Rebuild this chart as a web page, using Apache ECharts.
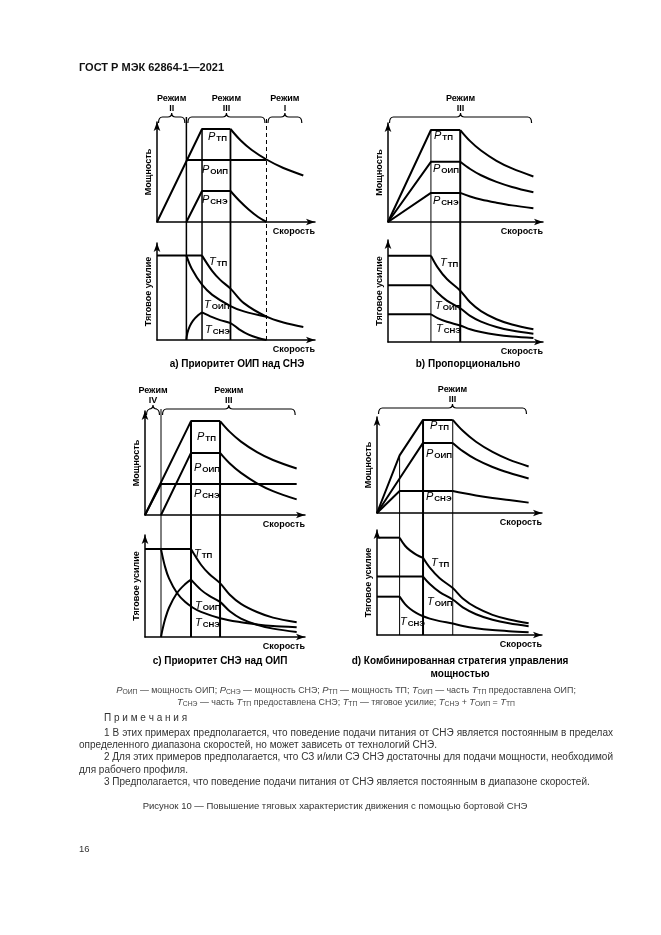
<!DOCTYPE html>
<html><head><meta charset="utf-8">
<script src="https://cdn.jsdelivr.net/npm/echarts@6/dist/echarts.min.js"></script>
<style>html,body{margin:0;padding:0;background:#fff}#c{width:661px;height:935px}</style>
</head><body><div id="c"></div>
<script>
// ===================== DATA (speed / value in relative units 0..10) =====================
// a) Приоритет ОИП над СНЭ
const a_regimes = [[0,1.86,'II'],[1.86,6.93,'III'],[6.93,9.26,'I']];
const a_bounds = [1.86, 2.85, 4.65, 6.93];
const a_P_TP_lin = [[0,0],[2.85,9.3],[4.65,9.3]];
const a_P_TP_dec = [[4.65,9.3],[5.3,8.15],[6.0,7.2],[6.93,6.25],[8.0,5.4],[9.26,4.65]];
const a_P_OIP = [[1.86,6.2],[6.93,6.2]];
const a_P_SNE_lin = [[1.86,0],[2.85,3.1],[4.65,3.1]];
const a_P_SNE_dec = [[4.65,3.1],[5.2,2.15],[5.8,1.25],[6.4,0.5],[6.93,0]];
const a_T_TP_lin = [[0,8.7],[2.85,8.7]];
const a_T_TP_dec = [[2.85,8.7],[3.5,7.1],[4.0,6.2],[4.65,5.3],[5.5,3.8],[6.93,2.4],[8.0,1.8],[9.26,1.35]];
const a_T_OIP = [[1.86,8.7],[2.2,7.35],[2.85,5.7],[3.5,4.65],[4.65,3.5],[5.5,2.95],[6.93,2.4]];
const a_T_SNE_rise = [[1.86,0],[1.92,0.7],[2.07,1.4],[2.28,2.0],[2.6,2.55],[2.85,2.85]];
const a_T_SNE_dec = [[2.85,2.85],[3.5,2.35],[4.0,2.05],[4.65,1.75],[5.2,1.1],[5.8,0.55],[6.4,0.2],[6.93,0]];
// b) Пропорционально
const b_regimes = [[0,9.36,'III']];
const b_bounds = [2.77, 4.66];
const b_P_TP_lin = [[0,0],[2.77,9.29],[4.66,9.29]];
const b_P_TP_dec = [[4.66,9.29],[5.3,8.17],[6.0,7.22],[7.0,6.18],[8.0,5.41],[9.38,4.6]];
const b_P_OIP_lin = [[0,0],[2.77,6.08],[4.66,6.08]];
const b_P_OIP_dec = [[4.66,6.08],[5.3,5.35],[6.0,4.72],[7.0,4.05],[8.0,3.54],[9.38,3.0]];
const b_P_SNE_lin = [[0,0],[2.77,2.94],[4.66,2.94]];
const b_P_SNE_dec = [[4.66,2.94],[5.3,2.58],[6.0,2.27],[7.0,1.95],[8.0,1.68],[9.38,1.4]];
const b_T_TP_lin = [[0,8.46],[2.77,8.46]];
const b_T_TP_dec = [[2.77,8.46],[3.2,7.32],[3.8,6.17],[4.66,5.03],[5.3,3.89],[6.0,3.03],[7.0,2.23],[8.0,1.71],[9.38,1.24]];
const b_T_OIP_lin = [[0,5.57],[2.77,5.57]];
const b_T_OIP_dec = [[2.77,5.57],[3.2,4.82],[3.8,4.06],[4.66,3.31],[5.3,2.56],[6.0,2.0],[7.0,1.47],[8.0,1.12],[9.38,0.82]];
const b_T_SNE_lin = [[0,2.72],[2.77,2.72]];
const b_T_SNE_dec = [[2.77,2.72],[3.2,2.35],[3.8,1.98],[4.66,1.62],[5.3,1.25],[6.0,0.98],[7.0,0.72],[8.0,0.55],[9.38,0.4]];
// c) Приоритет СНЭ над ОИП
const c_regimes = [[0,1.0,'IV'],[1.0,9.48,'III']];
const c_bounds = [1.0, 2.875, 4.69];
const c_P_TP_lin = [[0,0],[2.875,9.03],[4.69,9.03]];
const c_P_TP_dec = [[4.69,9.03],[5.3,7.99],[6.0,7.06],[7.0,6.05],[8.0,5.29],[9.48,4.47]];
const c_P_OIP_lin = [[1.0,0],[2.875,5.97],[4.69,5.97]];
const c_P_OIP_dec = [[4.69,5.97],[5.3,4.95],[6.0,4.05],[7.0,3.05],[8.0,2.3],[9.48,1.5]];
const c_P_SNE = [[0,0],[1.0,2.97],[9.48,2.97]];
const c_T_TP_lin = [[0,8.62],[2.875,8.62]];
const c_T_TP_dec = [[2.875,8.62],[3.5,7.08],[4.0,6.2],[4.69,5.28],[5.3,4.15],[6.0,3.25],[7.0,2.45],[8.0,1.9],[9.48,1.45]];
const c_T_SNE = [[1.0,8.62],[1.25,6.9],[1.5,5.75],[2.0,4.31],[2.5,3.45],[3.0,2.87],[3.5,2.46],[4.69,1.84],[6.0,1.44],[7.0,1.23],[8.0,1.08],[9.48,0.95]];
const c_T_OIP_rise = [[1.0,0],[1.1,0.78],[1.25,1.72],[1.5,2.87],[2.0,4.31],[2.5,5.17],[2.875,5.62]];
const c_T_OIP_dec = [[2.875,5.62],[3.5,4.62],[4.0,4.05],[4.69,3.44],[5.3,2.52],[6.0,1.81],[7.0,1.2],[8.0,0.82],[9.48,0.5]];
// d) Комбинированная стратегия
const d_regimes = [[0,9.15,'III']];
const d_bounds = [1.37, 2.79, 4.59];
const d_P_TP_lin = [[0,0],[1.37,6.0],[2.79,9.7],[4.59,9.7]];
const d_P_TP_dec = [[4.59,9.7],[5.2,8.56],[6.0,7.42],[7.0,6.36],[8.0,5.56],[9.19,4.85]];
const d_P_OIP_lin = [[0,0],[1.37,3.6],[2.79,7.3],[4.59,7.3]];
const d_P_OIP_dec = [[4.59,7.3],[5.2,6.44],[6.0,5.58],[7.0,4.79],[8.0,4.19],[9.19,3.6]];
const d_P_SNE_lin = [[0,0],[1.37,2.3],[4.59,2.3]];
const d_P_SNE_dec = [[4.59,2.3],[5.2,2.08],[6.0,1.83],[7.0,1.57],[8.0,1.35],[9.19,1.08]];
const d_T_TP_lin = [[0,9.27],[1.37,9.27]];
const d_T_TP_dec1 = [[1.37,9.27],[1.7,8.5],[2.0,8.06],[2.4,7.64],[2.79,7.35]];
const d_T_TP_dec2 = [[2.79,7.35],[3.2,6.41],[3.8,5.4],[4.59,4.47],[5.2,3.48],[6.0,2.62],[7.0,1.92],[8.0,1.47],[9.19,1.12]];
const d_T_OIP_lin = [[0,5.56],[2.79,5.56]];
const d_T_OIP_dec = [[2.79,5.56],[3.2,4.85],[3.8,4.08],[4.59,3.38],[5.2,2.63],[6.0,1.98],[7.0,1.45],[8.0,1.11],[9.19,0.84]];
const d_T_SNE_lin = [[0,3.65],[1.37,3.65]];
const d_T_SNE_dec = [[1.37,3.65],[1.7,2.94],[2.0,2.5],[2.4,2.08],[2.79,1.79],[3.2,1.56],[3.8,1.32],[4.59,1.09],[5.2,0.85],[6.0,0.64],[7.0,0.47],[8.0,0.36],[9.19,0.27]];

// ===================== LAYOUT & STYLE =====================
const F = '"Liberation Sans Narrow","Liberation Sans",Arial,sans-serif';
const FN = '"Liberation Sans",Arial,sans-serif';
const panels = [
 {L:157,R:315,braceY:117,top:[122,222],bot:[243,340],regimes:a_regimes,bounds:a_bounds,
  boundTop:[null,a_P_TP_lin[1][1],a_P_TP_lin[2][1],null],boundW:[1.5,1.5,1.8,1],boundDash:[0,0,0,1],
  topLines:[[a_P_TP_lin,0],[a_P_TP_dec,1],[a_P_OIP,0],[a_P_SNE_lin,0],[a_P_SNE_dec,1]],
  botLines:[[a_T_TP_lin,0],[a_T_TP_dec,1],[a_T_OIP,1],[a_T_SNE_rise,1],[a_T_SNE_dec,1]]},
 {L:388,R:543,braceY:117,top:[123,222],bot:[240,342],regimes:b_regimes,bounds:b_bounds,
  boundTop:[b_P_TP_lin[1][1],b_P_TP_lin[2][1]],boundW:[1,2],boundDash:[0,0],
  topLines:[[b_P_TP_lin,0],[b_P_TP_dec,1],[b_P_OIP_lin,0],[b_P_OIP_dec,1],[b_P_SNE_lin,0],[b_P_SNE_dec,1]],
  botLines:[[b_T_TP_lin,0],[b_T_TP_dec,1],[b_T_OIP_lin,0],[b_T_OIP_dec,1],[b_T_SNE_lin,0],[b_T_SNE_dec,1]]},
 {L:145,R:305,braceY:409,top:[411,515],bot:[535,637],regimes:c_regimes,bounds:c_bounds,
  boundTop:[null,c_P_TP_lin[1][1],c_P_TP_lin[2][1]],boundW:[1,2,2],boundDash:[0,0,0],
  topLines:[[c_P_TP_lin,0],[c_P_TP_dec,1],[c_P_OIP_lin,0],[c_P_OIP_dec,1],[c_P_SNE,0]],
  botLines:[[c_T_TP_lin,0],[c_T_TP_dec,1],[c_T_SNE,1],[c_T_OIP_rise,1],[c_T_OIP_dec,1]]},
 {L:377,R:542,braceY:408,top:[417,513],bot:[530,635],regimes:d_regimes,bounds:d_bounds,
  boundTop:[d_P_TP_lin[1][1],d_P_TP_lin[2][1],d_P_TP_lin[3][1]],boundW:[1,2,1],boundDash:[0,0,0],
  topLines:[[d_P_TP_lin,0],[d_P_TP_dec,1],[d_P_OIP_lin,0],[d_P_OIP_dec,1],[d_P_SNE_lin,0],[d_P_SNE_dec,1]],
  botLines:[[d_T_TP_lin,0],[d_T_TP_dec1,1],[d_T_TP_dec2,1],[d_T_OIP_lin,0],[d_T_OIP_dec,1],[d_T_SNE_lin,0],[d_T_SNE_dec,1]]}
];
const curveLabels = [
 [208,131,'P','ТП'],[202,164,'P','ОИП'],[202,194,'P','СНЭ'],
 [209,256,'T','ТП'],[204,299,'T','ОИП'],[205,324,'T','СНЭ'],
 [434,130,'P','ТП'],[433,163,'P','ОИП'],[433,195,'P','СНЭ'],
 [440,257,'T','ТП'],[435,300,'T','ОИП'],[436,323,'T','СНЭ'],
 [197,431,'P','ТП'],[194,462,'P','ОИП'],[194,488,'P','СНЭ'],
 [194,548,'T','ТП'],[195,600,'T','ОИП'],[195,617,'T','СНЭ'],
 [430,420,'P','ТП'],[426,448,'P','ОИП'],[426,491,'P','СНЭ'],
 [431,557,'T','ТП'],[427,596,'T','ОИП'],[400,616,'T','СНЭ']
];
const captions = [
 [237,364,'a) Приоритет ОИП над СНЭ'],[468,364,'b) Пропорционально'],
 [220,661,'c) Приоритет СНЭ над ОИП'],[460,661,'d) Комбинированная стратегия управления'],[460,674,'мощностью']
];

// ===================== BUILD =====================
const grid=[], xAxis=[], yAxis=[], series=[];
const nameStyle = {fontFamily:F, fontWeight:'bold', fontSize:9, color:'#000'};
function axisLine(){return {show:true,onZero:true,lineStyle:{color:'#000',width:1.5},symbol:['none','arrow'],symbolSize:[5,9]};}
function lineSeries(data, gi, smooth, w){
  return {type:'line',xAxisIndex:gi,yAxisIndex:gi,data,smooth:smooth?0.35:false,
    symbol:'none',silent:true,animation:false,z:3,lineStyle:{color:'#000',width:w||2}};
}
function braceRender(labels, yv){
  return function(params, api){
    const p0 = api.coord([api.value(0), yv]), p1 = api.coord([api.value(1), yv]);
    const y = p0[1], a = p0[0]+1.5, b = p1[0]-1.5, c = (a+b)/2, h = 6, r = 4;
    const d = `M${a} ${y+h} Q${a} ${y} ${a+r} ${y} L${c-r} ${y} Q${c} ${y} ${c} ${y-r} Q${c} ${y} ${c+r} ${y} L${b-r} ${y} Q${b} ${y} ${b} ${y+h}`;
    return {type:'group',children:[
      {type:'path',shape:{pathData:d},style:{fill:'none',stroke:'#000',lineWidth:1.2}},
      {type:'text',style:{text:'Режим',x:c,y:y-18,align:'center',verticalAlign:'middle',textAlign:'center',textVerticalAlign:'middle',font:`bold 9px ${F}`,fill:'#000'}},
      {type:'text',style:{text:labels[params.dataIndex],x:c,y:y-8,align:'center',verticalAlign:'middle',textAlign:'center',textVerticalAlign:'middle',font:`bold 9px ${F}`,fill:'#000'}}
    ]};
  };
}
panels.forEach(p=>{
  const pxu = (p.top[1]-p.top[0])/10;
  const ovMin = -(p.bot[1]-p.top[1])/pxu, ovMax = (p.top[1]-p.braceY)/pxu;
  [[p.top,'Мощность',p.topLines],[p.bot,'Тяговое усилие',p.botLines]].forEach(([tb,nm,lines])=>{
    const gi = grid.length;
    grid.push({left:p.L,top:tb[0],width:p.R-p.L,height:tb[1]-tb[0],outerBoundsMode:'none',containLabel:false});
    xAxis.push({gridIndex:gi,type:'value',min:0,max:10,axisLine:axisLine(),axisTick:{show:false},axisLabel:{show:false},splitLine:{show:false},
      name:'Скорость',nameLocation:'end',nameGap:0,nameTextStyle:Object.assign({align:'right',verticalAlign:'top',padding:[5,0,0,0]},nameStyle)});
    yAxis.push({gridIndex:gi,type:'value',min:0,max:10,axisLine:axisLine(),axisTick:{show:false},axisLabel:{show:false},splitLine:{show:false},
      name:nm,nameLocation:'middle',nameGap:4,nameRotate:90,nameTextStyle:nameStyle});
    lines.forEach(([d,s])=>series.push(lineSeries(d,gi,s)));
  });
  const ov = grid.length;
  grid.push({left:p.L,top:p.braceY,width:p.R-p.L,height:p.bot[1]-p.braceY,outerBoundsMode:'none',containLabel:false});
  xAxis.push({gridIndex:ov,type:'value',min:0,max:10,show:false});
  yAxis.push({gridIndex:ov,type:'value',min:ovMin,max:ovMax,show:false});
  p.bounds.forEach((x,k)=>{
    const t = p.boundTop[k]==null ? ovMax : p.boundTop[k];
    series.push({type:'line',xAxisIndex:ov,yAxisIndex:ov,data:[[x,ovMin],[x,t]],symbol:'none',silent:true,animation:false,z:2,
      lineStyle:{color:'#000',width:p.boundW[k],type:p.boundDash[k]?[4,3]:'solid'}});
  });
  series.push({type:'custom',xAxisIndex:ov,yAxisIndex:ov,data:p.regimes.map(r=>[r[0],r[1]]),
    renderItem:braceRender(p.regimes.map(r=>r[2]),ovMax),clip:false,silent:true,animation:false,z:4});
});

// ---- texts ----
const graphic = [];
graphic.push({type:'text',x:79,y:62,style:{text:'ГОСТ Р МЭК 62864-1—2021',font:`bold 11px ${FN}`,fill:'#111'}});
const richLab = {
  m:{fontStyle:'italic',fontSize:11,fontFamily:FN,fill:'#000',lineHeight:12,verticalAlign:'top'},
  s:{fontSize:8,fontFamily:F,fontWeight:'bold',fill:'#000',lineHeight:8,padding:[6,0,0,1],verticalAlign:'bottom'}
};
curveLabels.forEach(([x,y,m,s])=>graphic.push({type:'text',x,y,silent:true,z:10,style:{text:`{m|${m}}{s|${s}}`,rich:richLab}}));
captions.forEach(([x,y,t])=>graphic.push({type:'text',x,y,silent:true,style:{text:t,font:`bold 10px ${F}`,fill:'#000',align:'center',verticalAlign:'middle',textAlign:'center',textVerticalAlign:'middle'}}));
const richLeg = {
  m:{fontStyle:'italic',fontSize:9.4,fontFamily:FN,fill:'#444',lineHeight:10,verticalAlign:'top'},
  s:{fontSize:6.8,fontFamily:FN,fill:'#444',lineHeight:7,padding:[4,0,0,0],verticalAlign:'bottom'},
  n:{fontSize:8.9,fontFamily:FN,fill:'#444',lineHeight:10,verticalAlign:'top'}
};
const legend1 = '{m|P}{s|ОИП}{n| — мощность ОИП; }{m|P}{s|СНЭ}{n| — мощность СНЭ; }{m|P}{s|ТП}{n| — мощность ТП; }{m|T}{s|ОИП}{n| — часть }{m|T}{s|ТП}{n| предоставлена ОИП;}';
const legend2 = '{m|T}{s|СНЭ}{n| — часть }{m|T}{s|ТП}{n| предоставлена СНЭ; }{m|T}{s|ТП}{n| — тяговое усилие; }{m|T}{s|СНЭ}{n| + }{m|T}{s|ОИП}{n| = }{m|T}{s|ТП}';
graphic.push({type:'text',x:346,y:686,style:{text:legend1,rich:richLeg,align:'center',textAlign:'center'}});
graphic.push({type:'text',x:346,y:698,style:{text:legend2,rich:richLeg,align:'center',textAlign:'center'}});

const noteFont = `10px ${FN}`;
const capFont = `9.5px ${FN}`;
const cv = document.createElement('canvas').getContext('2d');
function justified(text,x0,x1,y){
  cv.font = noteFont;
  const words = text.split(' ');
  const ws = words.map(w=>cv.measureText(w).width);
  const gap = (x1-x0-ws.reduce((a,b)=>a+b,0))/(words.length-1);
  let x = x0;
  words.forEach((w,i)=>{graphic.push({type:'text',x,y,style:{text:w,font:noteFont,fill:'#333',verticalAlign:'middle',textVerticalAlign:'middle'}}); x += ws[i]+gap;});
}
function plain(text,x,y,align,font){
  graphic.push({type:'text',x,y,style:{text,font:font||noteFont,fill:'#333',align:align||'left',textAlign:align||'left',verticalAlign:'middle',textVerticalAlign:'middle'}});
}
plain('П р и м е ч а н и я',104,718);
justified('1 В этих примерах предполагается, что поведение подачи питания от СНЭ является постоянным в пределах',104,613,733);
plain('определенного диапазона скоростей, но может зависеть от технологий СНЭ.',79,745);
justified('2 Для этих примеров предполагается, что СЗ и/или СЭ СНЭ достаточны для подачи мощности, необходимой',104,613,757);
plain('для рабочего профиля.',79,770);
plain('3 Предполагается, что поведение подачи питания от СНЭ является постоянным в диапазоне скоростей.',104,782);
plain('Рисунок 10 — Повышение тяговых характеристик движения с помощью бортовой СНЭ',335,806,'center',capFont);
plain('16',79,849,'left',capFont);

const chart = echarts.init(document.getElementById('c'),null,{renderer:'canvas'});
chart.setOption({animation:false,backgroundColor:'#fff',grid,xAxis,yAxis,series,graphic});
</script></body></html>
